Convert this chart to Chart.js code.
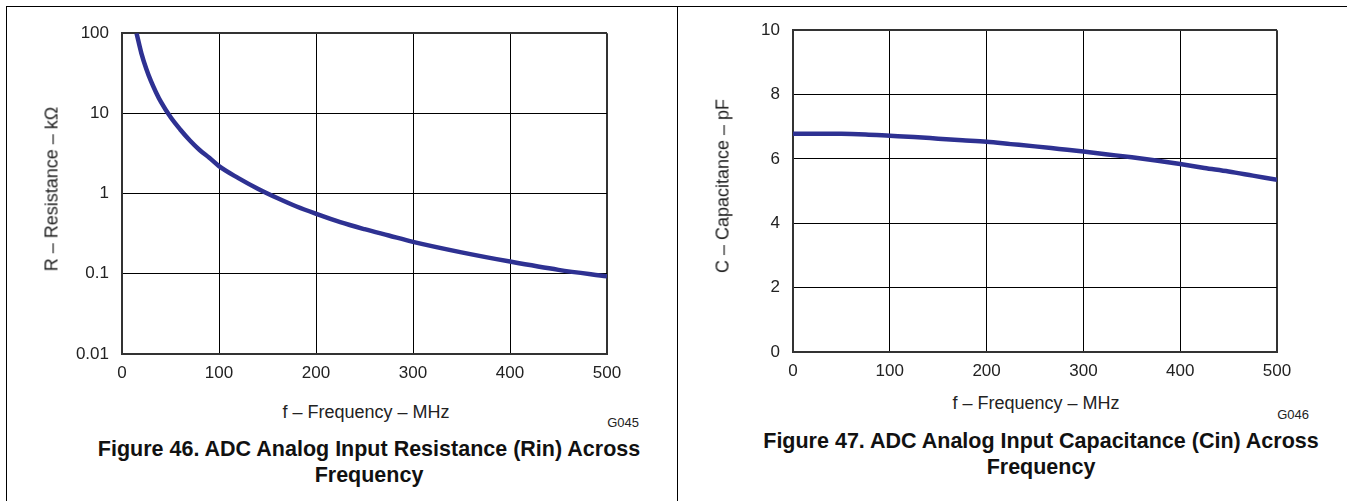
<!DOCTYPE html>
<html>
<head>
<meta charset="utf-8">
<script src="https://cdn.jsdelivr.net/npm/chart.js@4"></script>
<style>
  html, body { margin: 0; padding: 0; background: #fff; }
  body { width: 1347px; height: 501px; position: relative; overflow: hidden; font-family: "Liberation Sans", Arial, sans-serif; color: #222; }
  .rule { position: absolute; background: #000; }
  .cv { position: absolute; }
  .txt { position: absolute; white-space: nowrap; transform: translate(-50%, -50%); }
  .axt { font-size: 18px; }
  .yt { transform: translate(-50%, -50%) rotate(-90deg); }
  .code { font-size: 13px; transform: translate(-100%, -50%); }
  .cap { font-size: 21.5px; font-weight: bold; text-align: center; line-height: 26px; color: #111; }
</style>
</head>
<body>
<!-- frame lines -->
<div class="rule" style="left:6px;top:6px;width:1341px;height:1px"></div>
<div class="rule" style="left:6px;top:6px;width:1px;height:495px"></div>
<div class="rule" style="left:677px;top:6px;width:1px;height:495px"></div>

<canvas id="rin" class="cv" style="left:60px;top:10px" width="577" height="374"></canvas>
<canvas id="cin" class="cv" style="left:731px;top:7px" width="576" height="375"></canvas>

<div class="txt axt yt" style="left:52px;top:189px">R – Resistance – kΩ</div>
<div class="txt axt" style="left:366px;top:412px">f – Frequency – MHz</div>
<div class="txt code" style="left:639px;top:422px">G045</div>
<div class="txt cap" style="left:369px;top:462px">Figure 46. ADC Analog Input Resistance (Rin) Across<br>Frequency</div>

<div class="txt axt yt" style="left:723px;top:186px">C – Capacitance – pF</div>
<div class="txt axt" style="left:1036px;top:403px">f – Frequency – MHz</div>
<div class="txt code" style="left:1309px;top:414px">G046</div>
<div class="txt cap" style="left:1041px;top:454px">Figure 47. ADC Analog Input Capacitance (Cin) Across<br>Frequency</div>

<script>
// values
const freqTicks = [0, 100, 200, 300, 400, 500];

const rinFreq = [15, 20, 25, 30, 35, 40, 50, 60, 70, 80, 90, 100, 120, 140, 160, 180, 200, 225, 250, 275, 300, 350, 400, 450, 500];
const rinValues = [100, 56, 36, 25, 18.4, 14, 9, 6.3, 4.6, 3.5, 2.8, 2.2, 1.56, 1.15, 0.88, 0.69, 0.56, 0.44, 0.36, 0.30, 0.25, 0.185, 0.142, 0.112, 0.093];
const rinTicks = [0.01, 0.1, 1, 10, 100];
const rinTickLabels = ['0.01', '0.1', '1', '10', '100'];

const cinFreq = [0, 25, 50, 75, 100, 125, 150, 175, 200, 225, 250, 275, 300, 325, 350, 375, 400, 425, 450, 475, 500];
const cinValues = [6.78, 6.78, 6.78, 6.76, 6.72, 6.68, 6.63, 6.58, 6.53, 6.46, 6.39, 6.31, 6.23, 6.14, 6.05, 5.95, 5.84, 5.72, 5.61, 5.48, 5.35];
const cinTicks = [0, 2, 4, 6, 8, 10];

const curveColor = '#2e3192';
const tickFont = { family: 'Liberation Sans', size: 17 };

function edgeWidth(min, max) {
  return (ctx) => (ctx.tick && (ctx.tick.value === min || ctx.tick.value === max)) ? 2 : 1;
}
function edgeColor(min, max) {
  return (ctx) => (ctx.tick && (ctx.tick.value === min || ctx.tick.value === max)) ? '#333' : '#000';
}

function makeChart(id, xs, ys, yOpts) {
  const points = xs.map((x, i) => ({ x: x, y: ys[i] }));
  return new Chart(document.getElementById(id), {
    type: 'line',
    data: {
      datasets: [{
        data: points,
        borderColor: curveColor,
        borderWidth: 4.5,
        pointRadius: 0,
        cubicInterpolationMode: 'monotone',
        fill: false
      }]
    },
    options: {
      responsive: false,
      animation: false,
      events: [],
      layout: { padding: { left: 0, right: 30, top: 15, bottom: 0 } },
      plugins: { legend: { display: false }, tooltip: { enabled: false } },
      scales: {
        x: {
          type: 'linear',
          min: 0,
          max: 500,
          afterBuildTicks: (s) => { s.ticks = freqTicks.map(v => ({ value: v })); },
          afterFit: (s) => { s.height = 30; },
          ticks: { font: tickFont, color: '#222', padding: 9, maxRotation: 0, callback: (v) => String(v) },
          grid: { drawTicks: false, color: edgeColor(0, 500), lineWidth: edgeWidth(0, 500) },
          border: { display: true, color: '#333', width: 2 }
        },
        y: Object.assign({
          afterFit: (s) => { s.width = 62; },
          grid: { drawTicks: false, color: edgeColor(yOpts.min, yOpts.max), lineWidth: edgeWidth(yOpts.min, yOpts.max) },
          border: { display: true, color: '#333', width: 2 }
        }, yOpts)
      }
    }
  });
}

makeChart('rin', rinFreq, rinValues, {
  type: 'logarithmic',
  min: 0.01,
  max: 100,
  afterBuildTicks: (s) => { s.ticks = rinTicks.map(v => ({ value: v })); },
  ticks: {
    font: tickFont, color: '#222', padding: 13,
    callback: (v) => rinTickLabels[rinTicks.indexOf(v)] ?? ''
  }
});

makeChart('cin', cinFreq, cinValues, {
  type: 'linear',
  min: 0,
  max: 10,
  afterBuildTicks: (s) => { s.ticks = cinTicks.map(v => ({ value: v })); },
  ticks: { font: tickFont, color: '#222', padding: 13, callback: (v) => String(v) }
});
</script>
</body>
</html>
